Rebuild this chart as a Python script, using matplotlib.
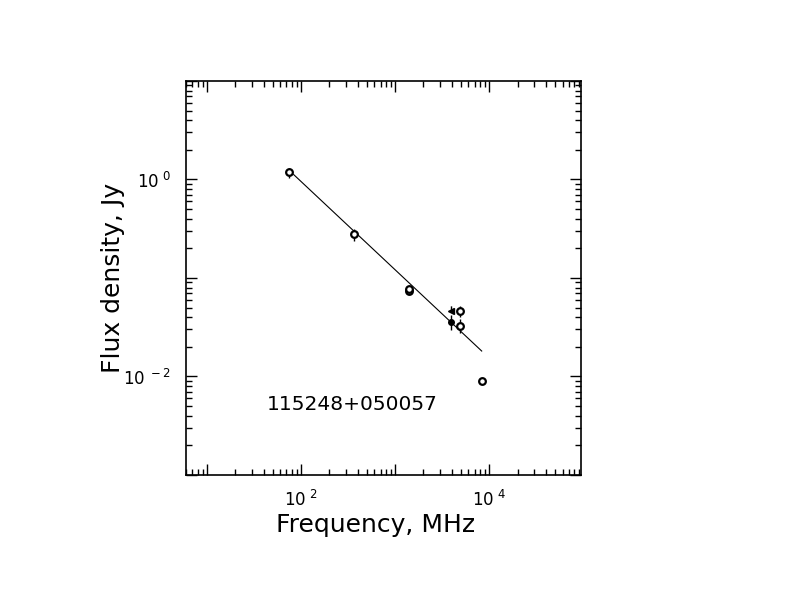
import numpy as np
import matplotlib
matplotlib.use('Agg')
import matplotlib.pyplot as plt
from matplotlib.ticker import LogLocator, FuncFormatter, NullFormatter

# Mediciones (MHz, Jy)
freq_abiertos = [74, 365, 1400, 1400, 4850, 4850, 8400]
flujo_abiertos = [1.18, 0.277, 0.0745, 0.0772, 0.0463, 0.0329, 0.00904]
error_abiertos = [0.14, 0.038, 0.0, 0.0, 0.006, 0.005, 0.0]

freq_lleno = [3950]
flujo_lleno = [0.0356]
error_lleno = [0.006]

freq_limite = [3950]
flujo_limite = [0.0463]

# Ajuste de ley de potencias
ajuste_rango = [83.5, 8300]
ajuste_s1ghz = 0.121
ajuste_alfa = -0.897

nombre_fuente = '115248+050057'

plt.rcParams['font.family'] = ['DejaVu Sans']
plt.rcParams['mathtext.default'] = 'regular'

fig = plt.figure(figsize=(7.92, 6.12), dpi=100)
ax = fig.add_axes([0.2348, 0.2239, 0.4987, 0.6438])

nu = np.logspace(np.log10(ajuste_rango[0]), np.log10(ajuste_rango[1]), 50)
ax.plot(nu, ajuste_s1ghz * (nu / 1000.0) ** ajuste_alfa, color='black', lw=0.8)

ax.errorbar(freq_abiertos, flujo_abiertos, yerr=error_abiertos, fmt='o',
            mfc='white', mec='black', mew=1.6, ms=4.8, ecolor='black',
            elinewidth=1.0, capsize=0)
ax.errorbar(freq_lleno, flujo_lleno, yerr=error_lleno, fmt='o',
            mfc='black', mec='black', ms=4, ecolor='black',
            elinewidth=1.0, capsize=0)
ax.plot(freq_limite, flujo_limite, marker='<', color='black', ms=5, ls='none')
ax.vlines(freq_limite, flujo_limite[0], flujo_limite[0] * 1.17, color='black',
          lw=1.0, linestyles='--')

ax.set_xscale('log')
ax.set_yscale('log')
ax.set_xlim(6.0, 9.4e4)
ax.set_ylim(1e-3, 1e1)


def etiqueta(v, pos):
    e = int(round(np.log10(v)))
    if e % 2 == 0:
        return r'$10^{\ %d}$' % e
    return ''


for eje in (ax.xaxis, ax.yaxis):
    eje.set_major_locator(LogLocator(base=10, numticks=20))
    eje.set_minor_locator(LogLocator(base=10, subs=np.arange(2, 10), numticks=20))
    eje.set_major_formatter(FuncFormatter(etiqueta))
    eje.set_minor_formatter(NullFormatter())

ax.tick_params(which='both', direction='in', top=True, right=True, width=1.0)
ax.tick_params(which='major', length=8, pad=11, labelsize=12)
ax.tick_params(which='minor', length=4)
for s in ax.spines.values():
    s.set_linewidth(1.2)

ax.set_xlabel('Frequency, MHz', fontsize=18)
ax.set_ylabel('Flux density, Jy', fontsize=18)
ax.xaxis.set_label_coords(0.48, -0.097)
ax.yaxis.set_label_coords(-0.155, 0.5)
ax.text(0.204, 0.18, nombre_fuente, transform=ax.transAxes, fontsize=14.5,
        va='center', ha='left')

fig.savefig('out.png', dpi=100)
